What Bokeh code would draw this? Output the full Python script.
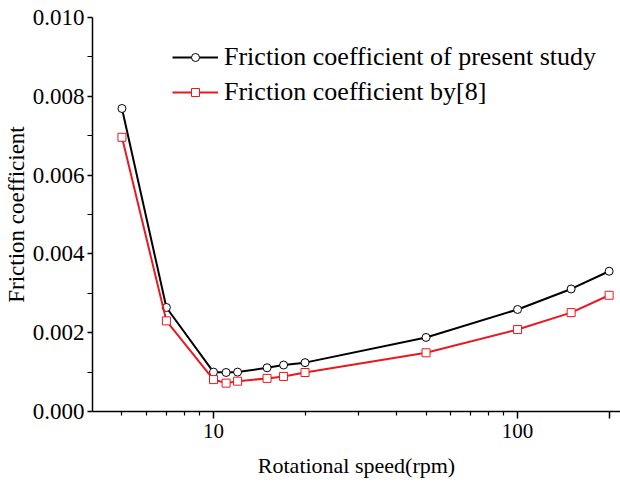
from bokeh.plotting import figure
from bokeh.models import FixedTicker, NumeralTickFormatter, Range1d, Legend, LegendItem
from bokeh.embed import file_html
from bokeh.resources import INLINE

speed = [5, 7, 10, 11, 12, 15, 17, 20, 50, 100, 150, 200]
present = [0.00769, 0.00264, 0.00100, 0.00099, 0.00100, 0.00111, 0.00118, 0.00124,
           0.00188, 0.00259, 0.00311, 0.00356]
ref8 = [0.00696, 0.00230, 0.00081, 0.00072, 0.00077, 0.00084, 0.00089, 0.00099,
        0.00149, 0.00208, 0.00251, 0.00295]
y_ticks = [0.000, 0.002, 0.004, 0.006, 0.008, 0.010]
x_ticks = [10, 100, 200]

FONT = "'Liberation Serif', 'Times New Roman', serif"
RED = "#e8191f"

p = figure(width=620, height=482, x_axis_type="log", output_backend="svg",
           toolbar_location=None, x_range=Range1d(4.0, 218), y_range=Range1d(0, 0.010),
           min_border_left=92, min_border_right=0, min_border_top=17, min_border_bottom=71)
p.outline_line_color = None
p.xgrid.visible = False
p.ygrid.visible = False
p.background_fill_color = "white"
p.border_fill_color = "white"

l1 = p.line(speed, present, line_color="black", line_width=2)
s1 = p.scatter(speed, present, marker="circle", size=8, line_color="black",
               fill_color="white", line_width=1)
l2 = p.line(speed, ref8, line_color=RED, line_width=2)
s2 = p.scatter(speed, ref8, marker="square", size=8, line_color=RED,
               fill_color="white", line_width=1)

# axes
xa = p.xaxis[0]
xa.ticker = FixedTicker(ticks=x_ticks, minor_ticks=[5, 6, 7, 8, 9, 20, 30, 40, 50, 60, 70, 80, 90])
xa.major_label_overrides = {200: ""}
xa.axis_label = "Rotational speed(rpm)"
ya = p.yaxis[0]
ya.ticker = FixedTicker(ticks=y_ticks, minor_ticks=[0.001, 0.003, 0.005, 0.007, 0.009])
ya.formatter = NumeralTickFormatter(format="0.000")
ya.axis_label = "Friction coefficient"

for ax in (xa, ya):
    ax.axis_line_color = "black"
    ax.axis_line_width = 1.5
    ax.major_tick_line_color = "black"
    ax.minor_tick_line_color = "black"
    ax.major_tick_line_width = 1.5
    ax.minor_tick_line_width = 1.2
    ax.major_tick_in = 0
    ax.minor_tick_in = 0
    ax.major_label_text_font = FONT
    ax.major_label_text_color = "black"
    ax.axis_label_text_font = FONT
    ax.axis_label_text_font_style = "normal"
    ax.axis_label_text_color = "black"

xa.major_label_text_font_size = "21px"
xa.axis_label_text_font_size = "22px"
ya.major_label_text_font_size = "23px"
ya.axis_label_text_font_size = "23px"

xa.major_tick_out = 7
xa.minor_tick_out = 4
xa.major_label_standoff = 5
xa.axis_label_standoff = 12
ya.major_tick_out = 5
ya.minor_tick_out = 5
ya.major_label_standoff = 3
ya.axis_label_standoff = 1

legend = Legend(items=[
    LegendItem(label="Friction coefficient of present study", renderers=[l1, s1]),
    LegendItem(label="Friction coefficient by[8]", renderers=[l2, s2]),
], location=(80, 304))
legend.border_line_color = None
legend.background_fill_alpha = 0
legend.label_text_font = FONT
legend.label_text_font_size = "26px"
legend.label_text_color = "black"
legend.glyph_width = 46
legend.glyph_height = 20
legend.label_height = 30
legend.label_standoff = 6
legend.spacing = 5
legend.padding = 0
legend.margin = 0
p.add_layout(legend)

open("out.html", "w").write(file_html(p, INLINE))
